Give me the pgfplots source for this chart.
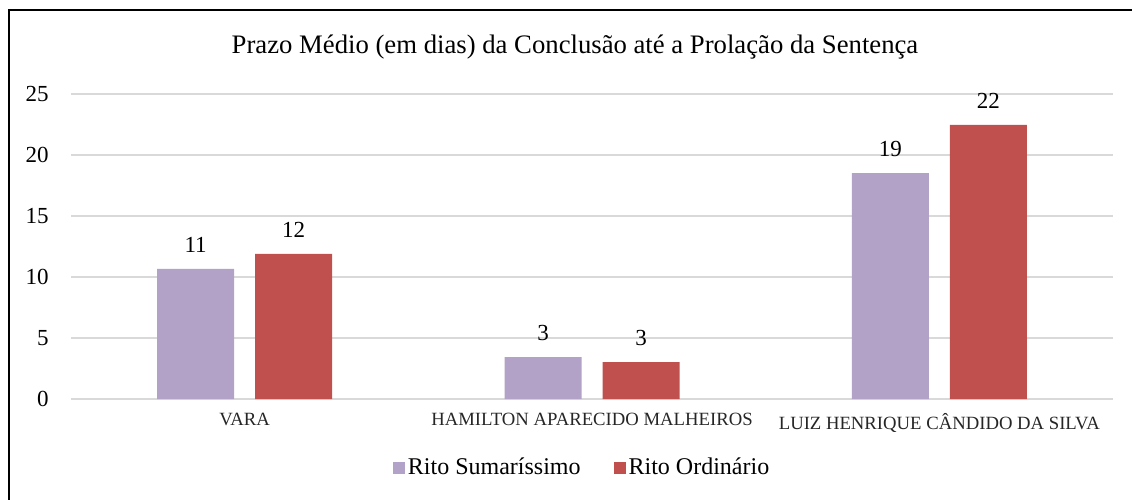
\documentclass[border=0pt]{standalone}
\usepackage{pgfplots}
\pgfplotsset{compat=1.18}
\usepackage{fontspec}
\setmainfont{Liberation Serif}
\definecolor{cpurple}{HTML}{B3A2C7}
\definecolor{cred}{HTML}{C0504D}
\definecolor{cgrid}{HTML}{D9D9D9}
\begin{document}
\begin{tikzpicture}
\begin{axis}[
  at={(0pt,0pt)}, anchor=south west,
  scale only axis,
  width=521pt, height=152.5pt,
  xmin=-0.5, xmax=2.5, ymin=0, ymax=25,
  ybar=10.5pt, bar width=38.5pt,
  axis line style={draw=none},
  major tick length=0pt,
  ytick={0,5,10,15,20,25},
  ymajorgrids, major grid style={cgrid, line width=0.8pt},
  xtick=data,
  xticklabels={VARA, HAMILTON APARECIDO MALHEIROS, LUIZ HENRIQUE CÂNDIDO DA SILVA},
  xticklabel style={font=\fontsize{9.35pt}{11pt}\selectfont, inner sep=0pt, yshift=-7pt, text=black!85},
  yticklabel style={font=\fontsize{11.5pt}{13pt}\selectfont, inner sep=0pt, xshift=-11pt, anchor=east},
  /pgf/number format/assume math mode=true,
  nodes near coords={\pgfmathprintnumber[fixed,precision=0]{\pgfplotspointmeta}},
  nodes near coords style={font=\fontsize{11.5pt}{13pt}\selectfont, anchor=south, inner sep=0pt, yshift=8pt, text=black},
  legend columns=2,
  legend style={draw=none, fill=none, at={(0.491,-0.226)}, anchor=center,
    font=\fontsize{12pt}{14pt}\selectfont, inner sep=0pt,
    /tikz/every even column/.append style={column sep=15pt},
    nodes={inner sep=1.5pt}},
  legend image code/.code={\fill[#1] (0pt,-3pt) rectangle (6pt,3pt);},
]
\addplot[fill=cpurple, draw=none] coordinates {(0,10.66) (1,3.44) (2,18.52)};
\addlegendentry{Rito Sumaríssimo}
\addplot[fill=cred, draw=none] coordinates {(0,11.89) (1,3.03) (2,22.46)};
\addlegendentry{Rito Ordinário}
\end{axis}
\node[font=\fontsize{13.35pt}{16pt}\selectfont, anchor=center] at (252pt,176pt) {Prazo Médio (em dias) da Conclusão até a Prolação da Sentença};
\draw[line width=1pt] (-31pt,-60pt) -- (-31pt,194.5pt) -- (545pt,194.5pt);
\pgfresetboundingbox
\useasboundingbox (-35.5pt,-50pt) rectangle (530.5pt,199.5pt);
\end{tikzpicture}
\end{document}
